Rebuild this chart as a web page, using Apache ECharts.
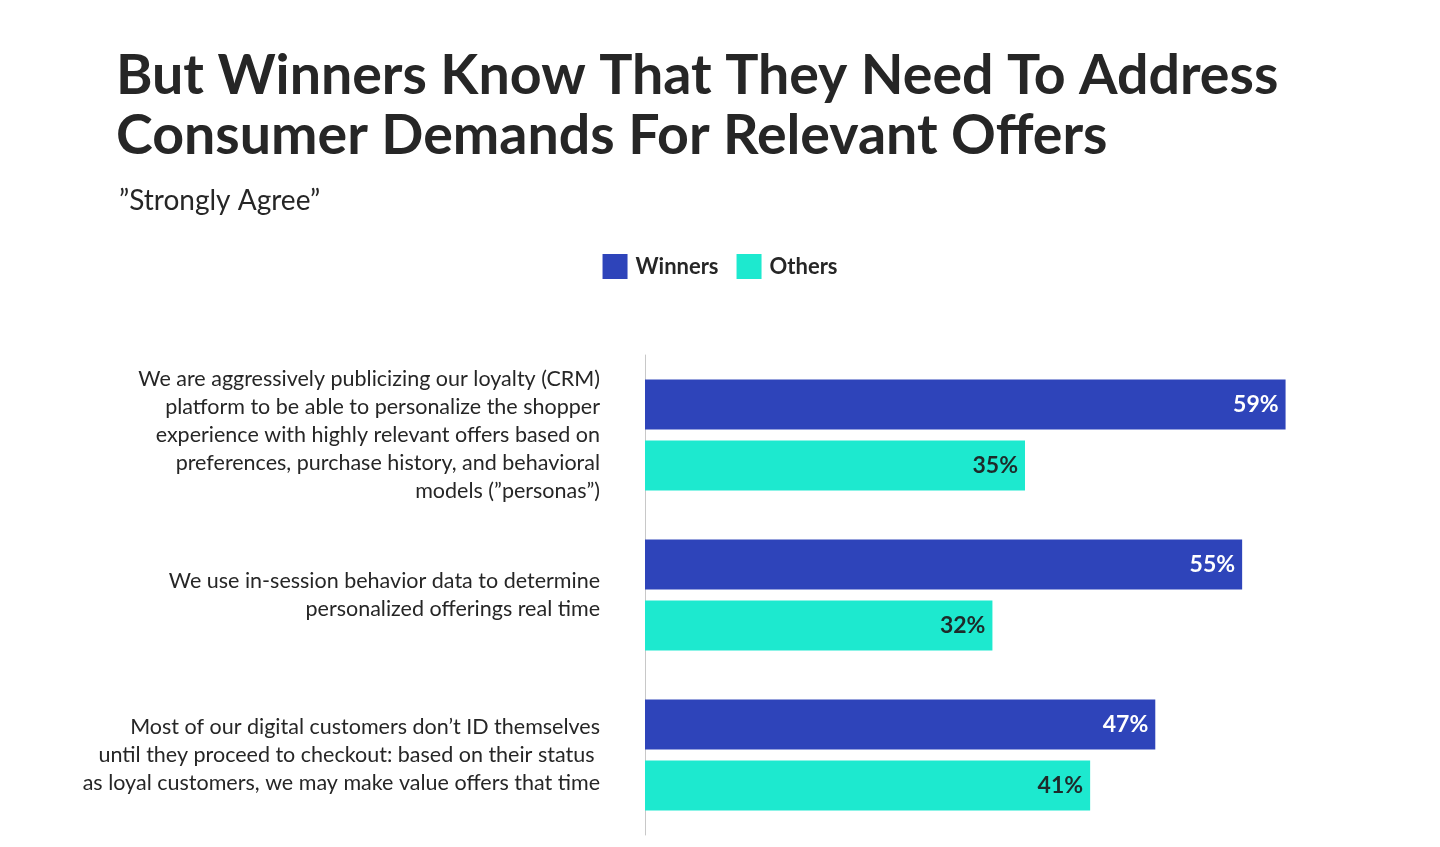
<!DOCTYPE html>
<html>
<head>
<meta charset="utf-8">
<script src="https://cdn.jsdelivr.net/npm/echarts@6/dist/echarts.min.js"></script>
<style>
html,body{margin:0;padding:0;background:#fff;}
#chart{width:1440px;height:847px;}
</style>
</head>
<body>
<div id="chart"></div>
<script>
const categories = [
  "We are aggressively publicizing our loyalty (CRM)\nplatform to be able to personalize the shopper\nexperience with highly relevant offers based on\npreferences, purchase history, and behavioral\nmodels (\u201dpersonas\u201d)",
  "We use in-session behavior data to determine\npersonalized offerings real time",
  "Most of our digital customers don\u2019t ID themselves\nuntil they proceed to checkout: based on their status \nas loyal customers, we may make value offers that time"
];
const winners = [59, 55, 47];
const others = [35, 32, 41];
const seriesNames = ["Winners", "Others"];
const titleText = "But Winners Know That They Need To Address\nConsumer Demands For Relevant Offers";
const subtitleText = "\u201dStrongly Agree\u201d";

const FONT = "Lato";
const chart = echarts.init(document.getElementById('chart'), null, {renderer: 'canvas'});
chart.setOption({
  backgroundColor: '#ffffff',
  animation: false,
  title: [
    {
      text: titleText,
      left: 111, top: 41,
      textStyle: {fontFamily: FONT, fontSize: 55.5, fontWeight: 'bold', color: '#262626', lineHeight: 60}
    },
    {
      text: subtitleText,
      left: 114, top: 182,
      textStyle: {fontFamily: FONT, fontSize: 28, fontWeight: 'normal', color: '#262626'}
    }
  ],
  legend: {
    data: seriesNames,
    left: 'center', top: 249,
    itemWidth: 25, itemHeight: 25, itemGap: 18,
    icon: 'rect',
    textStyle: {fontFamily: FONT, fontSize: 22, fontWeight: 'bold', color: '#262626', padding: [0,0,0,3]}
  },
  grid: {left: 645, right: 35, top: 355, height: 480, containLabel: false},
  xAxis: {type: 'value', min: 0, max: 70, show: false},
  yAxis: {
    type: 'category', data: categories, inverse: true,
    axisLine: {show: true, lineStyle: {color: '#c8c8c8', width: 1}},
    axisTick: {show: false},
    axisLabel: {margin: 45, fontFamily: FONT, fontSize: 21.5, lineHeight: 28, color: '#262626', align: 'right'}
  },
  series: [
    {
      name: seriesNames[0], type: 'bar', data: winners, barWidth: 50, barGap: '22%',
      itemStyle: {color: '#2E44BA'},
      label: {show: true, position: 'insideRight', offset: [-2, 0], formatter: '{c}%', fontFamily: FONT, fontSize: 23, fontWeight: 'bold', color: '#ffffff'}
    },
    {
      name: seriesNames[1], type: 'bar', data: others, barWidth: 50,
      itemStyle: {color: '#1DE9CF'},
      label: {show: true, position: 'insideRight', offset: [-2, 0], formatter: '{c}%', fontFamily: FONT, fontSize: 23, fontWeight: 'bold', color: '#1e2a2a'}
    }
  ]
});
</script>
</body>
</html>
